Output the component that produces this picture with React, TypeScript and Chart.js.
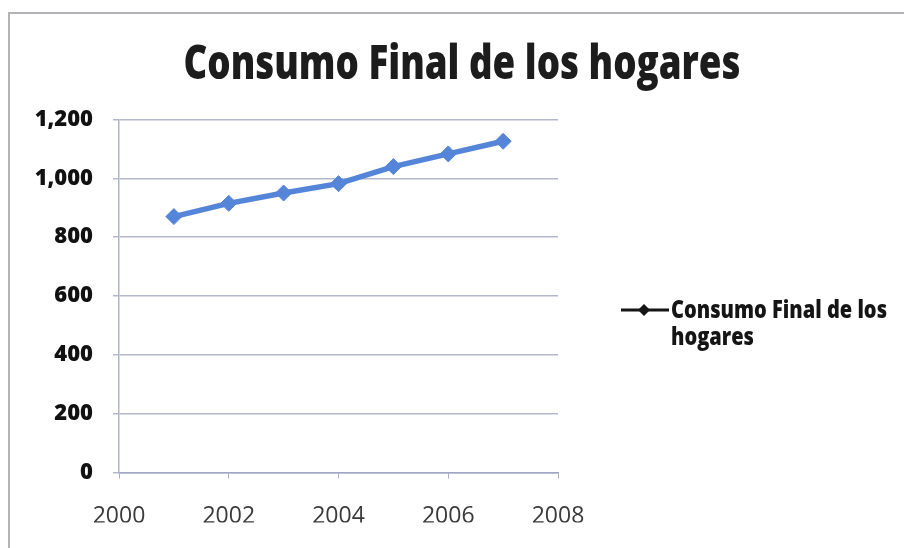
import React, { useEffect, useRef } from "react";
import { Chart, registerables } from "chart.js";

Chart.register(...registerables);

const TITLE = "Consumo Final de los hogares";
const SERIES_NAME = "Consumo Final de los hogares";
const LEGEND_LINES = ["Consumo Final de los", "hogares"];
const YEARS = [2001, 2002, 2003, 2004, 2005, 2006, 2007];
const VALUES = [870, 915, 950, 982, 1040, 1083, 1126];
const X_MIN = 2000;
const X_MAX = 2008;
const X_STEP = 2;
const Y_MIN = 0;
const Y_MAX = 1200;
const Y_STEP = 200;

const LINE_COLOR = "#5585d8";

const decorPlugin = {
  id: "decor",
  beforeDraw(chart: any) {
    const ctx = chart.ctx;
    ctx.save();
    ctx.fillStyle = "#ffffff";
    ctx.fillRect(0, 0, chart.width, chart.height);
    ctx.strokeStyle = "#b4b4b8";
    ctx.lineWidth = 2;
    ctx.strokeRect(9, 13, chart.width + 20, chart.height + 20);
    ctx.restore();
  },
  afterDraw(chart: any) {
    const ctx = chart.ctx;
    // Title
    ctx.save();
    ctx.fillStyle = "#1c1c1c";
    ctx.font = "800 48px 'Open Sans'";
    ctx.textBaseline = "alphabetic";
    ctx.textAlign = "left";
    const tw = ctx.measureText(TITLE).width;
    const targetW = 557;
    const sx = targetW / tw;
    ctx.translate(462 - targetW / 2, 79);
    ctx.scale(sx, 1);
    ctx.fillText(TITLE, 0, 0);
    ctx.restore();

    // Legend
    ctx.save();
    ctx.strokeStyle = "#151515";
    ctx.lineWidth = 3;
    ctx.beginPath();
    ctx.moveTo(621, 310);
    ctx.lineTo(669, 310);
    ctx.stroke();
    ctx.fillStyle = "#151515";
    ctx.beginPath();
    const r = 6;
    ctx.moveTo(644, 310 - r);
    ctx.lineTo(644 + r, 310);
    ctx.lineTo(644, 310 + r);
    ctx.lineTo(644 - r, 310);
    ctx.closePath();
    ctx.fill();
    ctx.fillStyle = "#151515";
    ctx.font = "800 24px 'Open Sans'";
    ctx.textBaseline = "alphabetic";
    const w1 = ctx.measureText(LEGEND_LINES[0]).width;
    const lsx = 216 / w1;
    LEGEND_LINES.forEach((line, i) => {
      ctx.save();
      ctx.translate(671, 318 + i * 27);
      ctx.scale(lsx, 1);
      ctx.fillText(line, 0, 0);
      ctx.restore();
    });
    ctx.restore();
  },
};

export default function App() {
  const ref = useRef<HTMLCanvasElement | null>(null);

  useEffect(() => {
    document.body.style.margin = "0";
    const canvas = ref.current;
    if (!canvas) return;
    const chart = new Chart(canvas, {
      type: "line",
      data: {
        datasets: [
          {
            label: SERIES_NAME,
            data: YEARS.map((y, i) => ({ x: y, y: VALUES[i] })),
            borderColor: LINE_COLOR,
            backgroundColor: LINE_COLOR,
            borderWidth: 5.5,
            pointStyle: "rectRot",
            pointRadius: 8,
            pointHoverRadius: 8,
            pointBorderWidth: 1,
            pointBorderColor: LINE_COLOR,
            pointBackgroundColor: LINE_COLOR,
            tension: 0,
          },
        ],
      },
      options: {
        animation: false,
        responsive: false,
        maintainAspectRatio: false,
        layout: { padding: { left: 0, top: 119.5, right: 346, bottom: 25.5 } },
        plugins: {
          legend: { display: false },
          title: { display: false },
          tooltip: { enabled: false },
        },
        scales: {
          x: {
            type: "linear",
            min: X_MIN,
            max: X_MAX,
            ticks: {
              stepSize: X_STEP,
              color: "#3a3a3a",
              font: { family: "'Open Sans'", size: 23 },
              padding: 24,
              callback: (v: any) => String(v),
            },
            grid: {
              drawOnChartArea: false,
              drawTicks: true,
              tickLength: 6,
              color: "#a8acc4",
            },
            border: { color: "#a0a6c4", width: 1.5 },
            afterFit: (s: any) => {
              s.height = 50;
            },
          },
          y: {
            min: Y_MIN,
            max: Y_MAX,
            ticks: {
              stepSize: Y_STEP,
              color: "#111111",
              font: { family: "'Open Sans'", size: 22, weight: "800" },
              padding: 20,
              callback: (v: any) => Number(v).toLocaleString("en-US"),
            },
            grid: {
              color: "#b4b8cc",
              lineWidth: 1.5,
              tickLength: 6,
            },
            border: { color: "#b0b4c8", width: 1.5 },
            afterFit: (s: any) => {
              s.width = 119;
            },
          },
        },
      },
      plugins: [decorPlugin],
    });
    return () => chart.destroy();
  }, []);

  return (
    <div style={{ width: 904, height: 548 }}>
      <canvas ref={ref} width={904} height={548} style={{ display: "block" }} />
    </div>
  );
}
